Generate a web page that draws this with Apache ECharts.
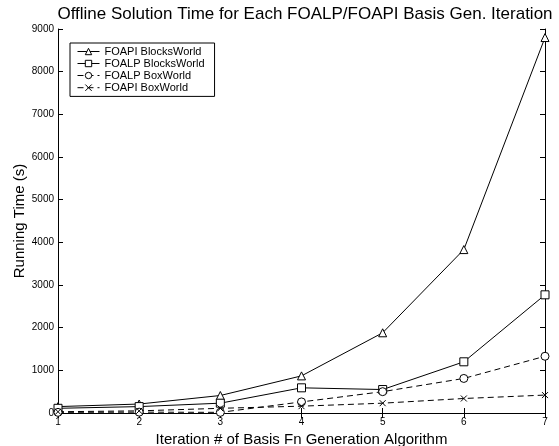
<!DOCTYPE html>
<html><head><meta charset="utf-8">
<script src="https://cdn.jsdelivr.net/npm/echarts@6/dist/echarts.min.js"></script>
<style>html,body{margin:0;padding:0;background:#fff}#c{width:559px;height:446px}</style>
</head><body><div id="c"></div>
<script>
const iterations = [1, 2, 3, 4, 5, 6, 7];
const foapiBlocks = [150, 210, 410, 870, 1880, 3830, 8800];
const foalpBlocks = [110, 150, 230, 590, 550, 1200, 2770];
const foalpBox = [15, 20, 15, 260, 500, 810, 1330];
const foapiBox = [30, 50, 110, 160, 230, 340, 420];
const seriesNames = ['FOAPI BlocksWorld', 'FOALP BlocksWorld', 'FOALP BoxWorld', 'FOAPI BoxWorld'];
const yTicks = [0, 1000, 2000, 3000, 4000, 5000, 6000, 7000, 8000, 9000];

const font = 'Liberation Sans, Arial, Helvetica, sans-serif';
const xPath = 'path://M0,0L10,10M10,0L0,10';
function mk(name, vals, symbol, dashed) {
  return {
    name, type: 'line',
    data: iterations.map((x, i) => [x, vals[i]]),
    symbol, symbolSize: symbol === xPath ? 6 : 8,
    showAllSymbol: true,
    lineStyle: { color: '#000', width: 1, type: dashed ? [6, 4] : 'solid' },
    itemStyle: { color: symbol === xPath ? 'none' : '#fff', borderColor: '#000', borderWidth: 1 },
    emphasis: { disabled: true },
    z: 3
  };
}
const chart = echarts.init(document.getElementById('c'), null, { renderer: 'canvas' });
const axisCommon = {
  axisLine: { show: true, lineStyle: { color: '#000', width: 1 } },
  axisTick: { show: true, inside: true, length: 5, lineStyle: { color: '#000' } },
  splitLine: { show: false }
};
chart.setOption({
  animation: false,
  backgroundColor: '#fff',
  title: {
    text: 'Offline Solution Time for Each FOALP/FOAPI Basis Gen. Iteration',
    left: 300, top: 1, textAlign: 'center',
    textStyle: { fontFamily: font, fontSize: 17, fontWeight: 'normal', color: '#000' }
  },
  grid: { left: 58, right: 14, top: 29, bottom: 33, containLabel: false, outerBoundsMode: 'none' },
  legend: {
    orient: 'vertical', left: 70, top: 43,
    data: seriesNames,
    backgroundColor: '#fff', borderColor: '#000', borderWidth: 1,
    padding: [3, 10, 3, 7], itemGap: 1, itemWidth: 22, itemHeight: 8,
    lineStyle: { width: 1 },
    itemStyle: { borderWidth: 1 },
    textStyle: { fontFamily: font, fontSize: 11, color: '#000' }
  },
  xAxis: [
    Object.assign({
      type: 'value', min: 1, max: 7, interval: 1, position: 'bottom',
      name: 'Iteration # of Basis Fn Generation Algorithm', nameLocation: 'middle', nameGap: 17,
      nameTextStyle: { fontFamily: font, fontSize: 15, color: '#000' },
      axisLabel: { fontFamily: font, fontSize: 10, color: '#000', margin: 4 }
    }, axisCommon),
    Object.assign({
      type: 'value', min: 1, max: 7, interval: 1, position: 'top',
      axisLabel: { show: false }
    }, axisCommon)
  ],
  yAxis: [
    Object.assign({
      type: 'value', min: 0, max: 9000, interval: 1000, position: 'left',
      name: 'Running Time (s)', nameLocation: 'middle', nameGap: 31, nameMoveOverlap: false,
      nameTextStyle: { fontFamily: font, fontSize: 15, color: '#000' },
      axisLabel: { fontFamily: font, fontSize: 10, color: '#000', margin: 4,
        formatter: v => yTicks.includes(v) ? String(v) : '' }
    }, axisCommon),
    Object.assign({
      type: 'value', min: 0, max: 9000, interval: 1000, position: 'right',
      axisLabel: { show: false }
    }, axisCommon)
  ],
  series: [
    mk(seriesNames[0], foapiBlocks, 'triangle', false),
    mk(seriesNames[1], foalpBlocks, 'rect', false),
    mk(seriesNames[2], foalpBox, 'circle', true),
    mk(seriesNames[3], foapiBox, xPath, true)
  ]
});
</script></body></html>
